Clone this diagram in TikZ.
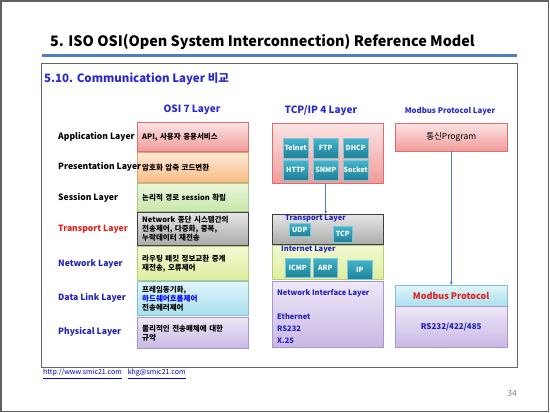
\documentclass[tikz,border=0pt]{standalone}
\usepackage{fontspec}
\setmainfont{Noto Sans CJK KR}
\usetikzlibrary{arrows.meta}
\definecolor{ttlblue}{HTML}{2A2ACC}
\definecolor{lblblue}{HTML}{2222B8}
\definecolor{lblred}{HTML}{E02020}
\definecolor{lineblue}{HTML}{4F7FBA}
\definecolor{arrblue}{HTML}{4F81BD}
\definecolor{frame}{HTML}{606060}
\definecolor{tealA}{HTML}{45B5CC}
\definecolor{tealB}{HTML}{1C8098}
\definecolor{tealD}{HTML}{7CC8D8}
\definecolor{redT}{HTML}{FCE4E4}\definecolor{redB}{HTML}{F19A9A}\definecolor{redD}{HTML}{D47070}
\definecolor{orgT}{HTML}{FDE9D5}\definecolor{orgB}{HTML}{F8BE85}\definecolor{orgD}{HTML}{E0A26A}
\definecolor{grnT}{HTML}{EAF6DC}\definecolor{grnB}{HTML}{C9E8A9}\definecolor{grnD}{HTML}{A8C890}
\definecolor{gryT}{HTML}{E6E6E6}\definecolor{gryB}{HTML}{ABABAB}\definecolor{gryD}{HTML}{404040}
\definecolor{ylwT}{HTML}{F3F9D4}\definecolor{ylwB}{HTML}{DCEE9C}\definecolor{ylwD}{HTML}{B8CC80}
\definecolor{cyaT}{HTML}{E2F5FB}\definecolor{cyaB}{HTML}{A9DFEE}\definecolor{cyaD}{HTML}{80C0D0}
\definecolor{purT}{HTML}{EEE8F7}\definecolor{purB}{HTML}{C9B8E5}\definecolor{purD}{HTML}{A898C8}
\tikzset{
  boxbase/.style={draw, rectangle, anchor=north west, inner xsep=5pt, inner ysep=1pt, align=left},
  redbox/.style={boxbase, draw=redD, top color=redT, bottom color=redB},
  orgbox/.style={boxbase, draw=orgD, top color=orgT, bottom color=orgB},
  grnbox/.style={boxbase, draw=grnD, top color=grnT, bottom color=grnB},
  graybox/.style={boxbase, draw=gryD, top color=gryT, bottom color=gryB},
  ylwbox/.style={boxbase, draw=ylwD, top color=ylwT, bottom color=ylwB},
  cyanbox/.style={boxbase, draw=cyaD, top color=cyaT, bottom color=cyaB},
  purbox/.style={boxbase, draw=purD, top color=purT, bottom color=purB},
  ositxt/.style={text width=101pt, font=\fontsize{7.5}{9}\selectfont\bfseries},
  lbl/.style={anchor=west, inner sep=0pt, font=\fontsize{8.6}{10}\selectfont\bfseries},
  hdr/.style={inner sep=0pt, text=ttlblue, font=\fontsize{10}{11}\selectfont\bfseries},
  tbox/.style={draw=tealD, top color=tealA, bottom color=tealB, inner sep=0pt, anchor=north west, text=white, font=\fontsize{7}{7}\selectfont\bfseries},
  arr/.style={draw=arrblue, line width=0.9pt, -{Stealth[length=3.5pt,width=3pt]}},
  subtxt/.style={anchor=west, inner sep=0pt, text=lblblue, font=\fontsize{7.5}{9}\selectfont\bfseries}
}
\begin{document}
\begin{tikzpicture}[x=1pt,y=-1pt]
\useasboundingbox (0,0) rectangle (550,413);
\fill[white] (0,0) rectangle (550,413);
\draw[frame, line width=1.5pt] (1,1) rectangle (548.5,411.5);
% title
\node[anchor=base west, inner sep=0pt, font=\fontsize{14.4}{16}\selectfont\bfseries] (title) at (50,46) {5. ISO OSI(Open System Interconnection) Reference Model};
\draw[lineblue, line width=3pt] (42,55) -- (517,55);
\draw[black!60, line width=0.9pt] (41,63) rectangle (517,367);
\node[anchor=west, inner sep=0pt, text=ttlblue, font=\fontsize{11.5}{12}\selectfont\bfseries] (sub) at (44,79) {5.10. Communication Layer 비교};
% OSI column
\node[hdr] (osih) at (192,110) {OSI 7 Layer};
\node[redbox, ositxt, minimum height=29pt] (app) at (137,122) {API, 사용자 응용서비스};
\node[orgbox, ositxt, minimum height=30pt] (pres) at (137,152) {암호화 압축 코드변환};
\node[grnbox, ositxt, minimum height=28pt] (sess) at (137,183) {논리적 경로 session 확립};
\node[graybox, ositxt, minimum height=33pt] (trans) at (137,212) {Network 종단 시스템간의\\전송제어, 다중화, 중복,\\누락데이터 재전송};
\node[ylwbox, ositxt, minimum height=34pt] (net) at (137,246) {라우팅 패킷 정보교환 중계\\재전송, 오류제어};
\node[cyanbox, ositxt, minimum height=34pt] (dl) at (137,281) {프레임동기화,\\{\color{blue}하드웨어흐름제어}\\전송에러제어};
\node[purbox, ositxt, minimum height=31pt] (phys) at (137,317) {물리적인 전송매체에 대한\\규약};
% left labels
\node[lbl] (lapp) at (58,137) {Application Layer};
\node[lbl] (lpres) at (58,167) {Presentation Layer};
\node[lbl] (lsess) at (58,198) {Session Layer};
\node[lbl, text=lblred] (ltrans) at (58,229) {Transport Layer};
\node[lbl, text=lblblue] (lnet) at (58,264) {Network Layer};
\node[lbl, text=lblblue] (ldl) at (58,298) {Data Link Layer};
\node[lbl, text=lblblue] (lphys) at (58,332) {Physical Layer};
% TCP/IP column
\node[hdr] (tcph) at (321,111) {TCP/IP 4 Layer};
\node[redbox, minimum width=111pt, minimum height=60pt] (tapp) at (272,123) {};
\node[tbox, minimum width=25pt, minimum height=20pt] (telnet) at (283,138) {Telnet};
\node[tbox, minimum width=25pt, minimum height=20pt] (ftp) at (313,138) {FTP};
\node[tbox, minimum width=25pt, minimum height=20pt] (dhcp) at (343,138) {DHCP};
\node[tbox, minimum width=25pt, minimum height=20pt] (http) at (283,160) {HTTP};
\node[tbox, minimum width=25pt, minimum height=20pt] (snmp) at (313,160) {SNMP};
\node[tbox, minimum width=25pt, minimum height=20pt] (socket) at (343,160) {Socket};
\node[graybox, minimum width=111pt, minimum height=30pt] (ttrans) at (272,214) {};
\node[subtxt] (ttransl) at (285,219) {Transport Layer};
\node[tbox, minimum width=21pt, minimum height=13pt] (udp) at (289,223) {UDP};
\node[tbox, minimum width=19pt, minimum height=16pt] (tcp) at (333,226) {TCP};
\node[ylwbox, minimum width=111pt, minimum height=34pt] (tnet) at (272,245) {};
\node[subtxt] (tnetl) at (281,250) {Internet Layer};
\node[tbox, minimum width=25pt, minimum height=19pt] (icmp) at (285,258) {ICMP};
\node[tbox, minimum width=24pt, minimum height=19pt] (arp) at (313,258) {ARP};
\node[tbox, minimum width=25pt, minimum height=19pt] (ip) at (347,260) {IP};
\node[purbox, minimum width=111pt, minimum height=66pt] (tni) at (272,281) {};
\node[anchor=north west, inner sep=0pt, align=left, text=lblblue, font=\fontsize{7.5}{12}\selectfont\bfseries] (tnil) at (277,289) {Network Interface Layer\\[0pt]\\Ethernet\\RS232\\X.25};
\draw[arr] (snmp.south |- tapp.south) -- (snmp.south |- ttrans.north);
% Modbus column
\node[inner sep=0pt, text=ttlblue, font=\fontsize{7.8}{9}\selectfont\bfseries] (modh) at (450,111) {Modbus Protocol Layer};
\node[redbox, anchor=north west, minimum width=112pt, minimum height=28pt, align=center, font=\fontsize{8.5}{10}\selectfont] (prog) at (395,123) {통신Program};
\node[cyanbox, anchor=north west, minimum width=112pt, minimum height=21pt, align=center, text=lblred, font=\fontsize{9}{10}\selectfont\bfseries] (mp) at (395,285) {Modbus Protocol};
\node[purbox, anchor=north west, minimum width=112pt, minimum height=41pt, align=center, text=lblblue, font=\fontsize{8}{10}\selectfont\bfseries] (rs) at (395,306) {RS232/422/485};
\draw[arr] (prog.south) -- (mp.north);
% footer
\node[anchor=west, inner sep=0pt, text=blue!80!black, font=\fontsize{7}{8}\selectfont] (url) at (43,374) {\underline{http://www.smic21.com}\hspace{6pt}\underline{khg@smic21.com}};
\node[inner sep=0pt, text=black!50, font=\fontsize{8.5}{10}\selectfont] (pg) at (512,393) {34};
\end{tikzpicture}
\end{document}
